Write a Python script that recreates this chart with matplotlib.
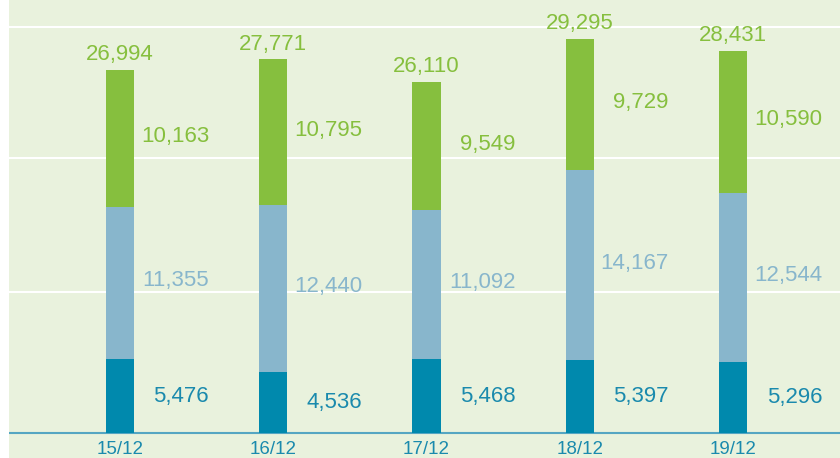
import matplotlib
matplotlib.use("Agg")
import matplotlib.pyplot as plt
from matplotlib.patches import Rectangle

periods = ["15/12", "16/12", "17/12", "18/12", "19/12"]
bottom_vals = [5476, 4536, 5468, 5397, 5296]
middle_vals = [11355, 12440, 11092, 14167, 12544]
top_vals = [10163, 10795, 9549, 9729, 10590]
totals = [26994, 27771, 26110, 29295, 28431]

bg = "#e9f2dd"
c_bottom = "#0089ad"
c_middle = "#88b6cc"
c_top = "#86bf3e"

plt.rcParams["font.family"] = ["Liberation Sans", "DejaVu Sans"]

fig = plt.figure(figsize=(8.4, 4.58), dpi=100, facecolor=bg)
fig.patches.append(Rectangle((0, 0), 9 / 840, 1, transform=fig.transFigure,
                             facecolor="white", edgecolor="none", zorder=0))
ax = fig.add_axes([9 / 840, 25 / 458, 831 / 840, 433 / 458])
ax.set_facecolor(bg)

x = list(range(len(periods)))
w = 0.183
mid_base = [b for b in bottom_vals]
top_base = [b + m for b, m in zip(bottom_vals, middle_vals)]

ax.bar(x, bottom_vals, w, color=c_bottom, zorder=3)
ax.bar(x, middle_vals, w, bottom=mid_base, color=c_middle, zorder=3)
ax.bar(x, top_vals, w, bottom=top_base, color=c_top, zorder=3)

fs = 16
off = 0.581
for i in x:
    ax.text(i + off, bottom_vals[i] / 2, f"{bottom_vals[i]:,}", ha="right",
            va="center", fontsize=fs, color="#1a8aad")
    ax.text(i + off, mid_base[i] + middle_vals[i] / 2 + 150, f"{middle_vals[i]:,}",
            ha="right", va="center", fontsize=fs, color=c_middle)
    ax.text(i + off, top_base[i] + top_vals[i] / 2 + 150, f"{top_vals[i]:,}",
            ha="right", va="center", fontsize=fs, color=c_top)
    ax.annotate(f"{totals[i]:,}", (i, totals[i]), xytext=(0, 3.5),
                textcoords="offset points", ha="center", va="bottom",
                fontsize=fs, color=c_top)

ax.set_xlim(-0.724, 4.698)
ax.set_ylim(0, 32193)
ax.set_yticks([10450, 20480, 30190])
ax.yaxis.grid(True, color="white", linewidth=1.5, zorder=1)
ax.tick_params(axis="y", left=False, labelleft=False)
ax.set_xticks(x)
ax.set_xticklabels(periods, fontsize=13.5, color="#1a8aad")
ax.tick_params(axis="x", length=0, pad=6)
for s in ["top", "right", "left"]:
    ax.spines[s].set_visible(False)
ax.spines["bottom"].set_color("#55a6c2")
ax.spines["bottom"].set_linewidth(1.5)

fig.savefig("out.png", dpi=100, facecolor=bg)
